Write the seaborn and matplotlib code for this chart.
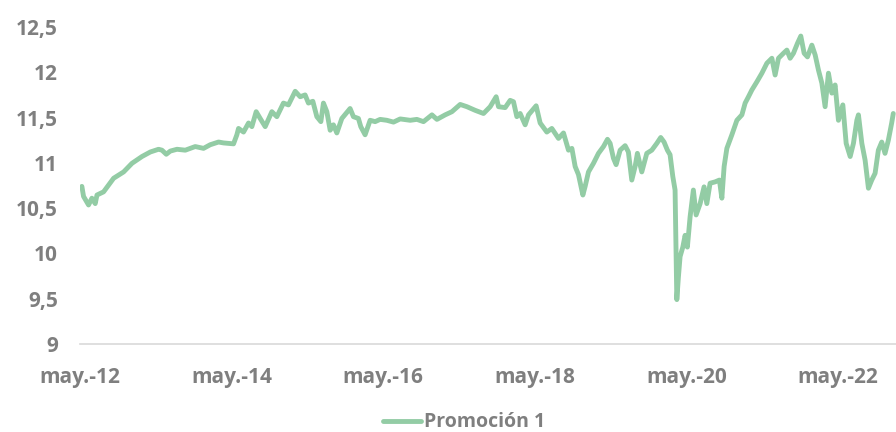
import numpy as np
import pandas as pd
import matplotlib
matplotlib.use("Agg")
import matplotlib.pyplot as plt
from matplotlib.lines import Line2D
import seaborn as sns

# decimal-year positions and values
years = [
    2012.355, 2012.377, 2012.443, 2012.487, 2012.531, 2012.554, 2012.641, 2012.773, 2012.905, 2013.015,
    2013.147, 2013.257, 2013.366, 2013.411, 2013.468, 2013.521, 2013.609, 2013.719, 2013.850, 2013.960,
    2014.048, 2014.158, 2014.224, 2014.356, 2014.400, 2014.422, 2014.488, 2014.554, 2014.598, 2014.655,
    2014.708, 2014.774, 2014.862, 2014.928, 2015.015, 2015.081, 2015.170, 2015.236, 2015.301, 2015.345,
    2015.403, 2015.456, 2015.509, 2015.543, 2015.588, 2015.632, 2015.675, 2015.720, 2015.786, 2015.895,
    2015.939, 2016.005, 2016.036, 2016.093, 2016.159, 2016.225, 2016.291, 2016.379, 2016.467, 2016.555,
    2016.687, 2016.775, 2016.862, 2016.973, 2017.039, 2017.148, 2017.237, 2017.346, 2017.435, 2017.544,
    2017.654, 2017.742, 2017.821, 2017.852, 2017.940, 2018.006, 2018.050, 2018.094, 2018.138, 2018.204,
    2018.248, 2018.349, 2018.402, 2018.490, 2018.556, 2018.644, 2018.710, 2018.776, 2018.821, 2018.864,
    2018.908, 2018.966, 2018.996, 2019.040, 2019.106, 2019.172, 2019.238, 2019.291, 2019.326, 2019.370,
    2019.405, 2019.458, 2019.524, 2019.567, 2019.612, 2019.656, 2019.686, 2019.744, 2019.810, 2019.876,
    2019.942, 2019.994, 2020.038, 2020.082, 2020.117, 2020.153, 2020.183, 2020.196, 2020.206, 2020.227,
    2020.249, 2020.285, 2020.315, 2020.345, 2020.381, 2020.424, 2020.460, 2020.513, 2020.565, 2020.601,
    2020.644, 2020.710, 2020.767, 2020.799, 2020.829, 2020.865, 2020.931, 2020.997, 2021.063, 2021.106,
    2021.150, 2021.195, 2021.261, 2021.327, 2021.393, 2021.459, 2021.502, 2021.546, 2021.612, 2021.657,
    2021.700, 2021.744, 2021.797, 2021.841, 2021.885, 2021.929, 2021.987, 2022.031, 2022.074, 2022.119,
    2022.162, 2022.206, 2022.251, 2022.294, 2022.338, 2022.396, 2022.440, 2022.493, 2022.536, 2022.581,
    2022.602, 2022.647, 2022.690, 2022.734, 2022.778, 2022.822, 2022.865, 2022.910, 2022.953, 2022.997,
    2023.041, 2023.062,
]
values = [
    10.74, 10.63, 10.535, 10.61, 10.55, 10.645, 10.68, 10.83, 10.90, 10.995,
    11.07, 11.12, 11.15, 11.14, 11.095, 11.13, 11.15, 11.14, 11.18, 11.16,
    11.20, 11.23, 11.22, 11.21, 11.31, 11.38, 11.34, 11.44, 11.40, 11.565,
    11.49, 11.40, 11.565, 11.51, 11.66, 11.64, 11.79, 11.73, 11.75, 11.66,
    11.68, 11.51, 11.455, 11.66, 11.565, 11.36, 11.42, 11.33, 11.49, 11.60,
    11.51, 11.49, 11.40, 11.31, 11.47, 11.455, 11.48, 11.47, 11.45, 11.485,
    11.47, 11.48, 11.455, 11.53, 11.48, 11.53, 11.565, 11.645, 11.62, 11.58,
    11.545, 11.62, 11.73, 11.62, 11.61, 11.69, 11.675, 11.51, 11.545, 11.42,
    11.53, 11.63, 11.44, 11.34, 11.38, 11.27, 11.33, 11.14, 11.16, 10.96,
    10.87, 10.645, 10.74, 10.90, 10.995, 11.105, 11.18, 11.26, 11.215, 11.05,
    10.98, 11.14, 11.19, 11.12, 10.81, 10.96, 11.105, 10.90, 11.105, 11.14,
    11.215, 11.28, 11.23, 11.14, 11.09, 10.85, 10.70, 10.00, 9.49, 9.74,
    9.965, 10.07, 10.20, 10.07, 10.405, 10.70, 10.425, 10.55, 10.735, 10.55,
    10.775, 10.79, 10.81, 10.61, 10.96, 11.16, 11.31, 11.47, 11.53, 11.66,
    11.73, 11.805, 11.895, 11.99, 12.10, 12.155, 11.97, 12.155, 12.21, 12.245,
    12.155, 12.21, 12.32, 12.40, 12.21, 12.17, 12.30, 12.19, 12.025, 11.88,
    11.62, 11.99, 11.77, 11.86, 11.47, 11.64, 11.215, 11.07, 11.215, 11.47,
    11.53, 11.215, 11.03, 10.72, 10.81, 10.885, 11.14, 11.23, 11.105, 11.25,
    11.44, 11.545,
]
series_name = "Promoción 1"
y_ticks = [9, 9.5, 10, 10.5, 11, 11.5, 12, 12.5]
x_tick_dates = ["2012-05-01", "2014-05-01", "2016-05-01", "2018-05-01", "2020-05-01", "2022-05-01"]
x_tick_labels = ["may.-12", "may.-14", "may.-16", "may.-18", "may.-20", "may.-22"]


def year_to_date(y):
    yr = int(np.floor(y))
    start = pd.Timestamp(year=yr, month=1, day=1)
    end = pd.Timestamp(year=yr + 1, month=1, day=1)
    return start + (end - start) * (y - yr)


df = pd.DataFrame({"fecha": [year_to_date(y) for y in years], "valor": values, "serie": series_name})

sns.set_theme(style="white")
plt.rcParams["font.family"] = ["Open Sans", "DejaVu Sans"]

grey = "#7F7F7F"
green = "#93CCA5"
lw = 3.5

fig = plt.figure(figsize=(8.96, 4.32), dpi=100)
ax = fig.add_axes([0.0893, 0.2037, 0.9107, 0.7338])

sns.lineplot(data=df, x="fecha", y="valor", hue="serie", palette=[green], linewidth=lw,
             ax=ax, legend=False, solid_capstyle="round", solid_joinstyle="round")

ax.set_ylim(9, 12.5)
ax.set_xlim(pd.Timestamp("2012-05-01"), year_to_date(2023.098))
ax.set_yticks(y_ticks)
ax.set_yticklabels([f"{t:g}".replace(".", ",") for t in y_ticks])
ax.set_xticks([pd.Timestamp(d) for d in x_tick_dates])
ax.set_xticklabels(x_tick_labels)
ax.set_xlabel("")
ax.set_ylabel("")

for s in ["top", "right", "left"]:
    ax.spines[s].set_visible(False)
ax.spines["bottom"].set_color("#D9D9D9")
ax.spines["bottom"].set_linewidth(1.2)

ax.tick_params(axis="both", length=0, labelsize=15, labelcolor=grey)
ax.tick_params(axis="y", pad=16)
ax.tick_params(axis="x", pad=16.5)
for lab in ax.get_xticklabels() + ax.get_yticklabels():
    lab.set_fontweight("bold")

handle = Line2D([0], [0], color=green, linewidth=lw)
leg = fig.legend([handle], [series_name], loc="center", bbox_to_anchor=(0.518, 0.022),
                 frameon=False, handlelength=1.95, handletextpad=0.2,
                 prop={"size": 14, "weight": "bold"})
for t in leg.get_texts():
    t.set_color(grey)

fig.savefig("out.png", dpi=100)
